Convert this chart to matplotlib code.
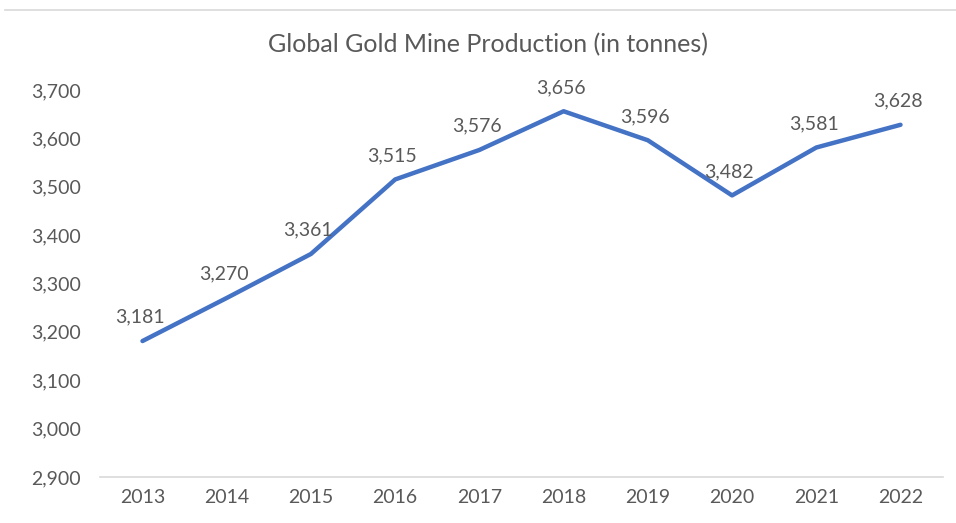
import matplotlib.pyplot as plt
from matplotlib.lines import Line2D
from matplotlib.ticker import FuncFormatter

years = ['2013', '2014', '2015', '2016', '2017', '2018', '2019', '2020', '2021', '2022']
production = [3181, 3270, 3361, 3515, 3576, 3656, 3596, 3482, 3581, 3628]

plt.rcParams['font.family'] = ['Lato', 'DejaVu Sans']
grey = '#595959'

fig = plt.figure(figsize=(9.56, 5.23), dpi=100)
ax = fig.add_axes([0.105, 0.088, 0.881, 0.74])

x = range(len(years))
ax.plot(x, production, color='#4472C4', linewidth=3.2, solid_capstyle='round')

for i, v in zip(x, production):
    ax.annotate(f'{v:,}', (i, v), xytext=(-2, 11), textcoords='offset points',
                ha='center', va='bottom', fontsize=14, color=grey)

ax.set_xlim(-0.5, len(years) - 0.5)
ax.set_ylim(2900, 3700)
ax.set_yticks(range(2900, 3701, 100))
ax.yaxis.set_major_formatter(FuncFormatter(lambda v, p: f'{int(v):,}'))
ax.set_xticks(list(x))
ax.set_xticklabels(years)

for s in ['top', 'right', 'left']:
    ax.spines[s].set_visible(False)
ax.spines['bottom'].set_color('#d9d9d9')
ax.spines['bottom'].set_linewidth(1.2)
ax.tick_params(axis='both', length=0, labelsize=14, labelcolor=grey)
ax.tick_params(axis='y', pad=14)
ax.tick_params(axis='x', pad=9)

fig.text(0.51, 0.915, 'Global Gold Mine Production (in tonnes)', ha='center', va='center',
         fontsize=18, color=grey)

fig.add_artist(Line2D([0.005, 1.0], [0.981, 0.981], color='#d9d9d9', linewidth=1.2))

fig.savefig('out.png', dpi=100)
